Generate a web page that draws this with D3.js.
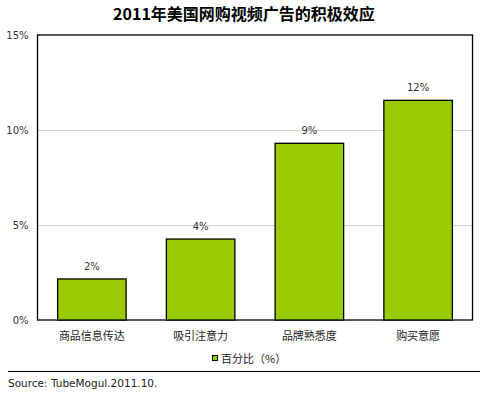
<!DOCTYPE html>
<html><head><meta charset="utf-8">
<script src="https://cdn.jsdelivr.net/npm/d3@7/dist/d3.min.js"></script>
<style>body{margin:0;background:#fff}svg{display:block}</style>
</head><body>
<script>
const categories = ["商品信息传达","吸引注意力","品牌熟悉度","购买意愿"];
const values = [2.16, 4.26, 9.3, 11.56];
const valueLabels = ["2%","4%","9%","12%"];
const ticks = [0,5,10,15];
const tickLabels = ["0%","5%","10%","15%"];
const seriesName = "百分比（%）";
const title = "2011年美国网购视频广告的积极效应";
const source = "Source: TubeMogul.2011.10.";

const W=483,H=393;
const svg=d3.select("body").append("svg").attr("width",W).attr("height",H);
const font="'Noto Sans CJK SC','DejaVu Sans',sans-serif";
const m={l:37.5,r:472.5,t:35,b:320};
const x=d3.scaleBand().domain(categories).range([m.l,m.r]).paddingInner(0.37).paddingOuter(0.185);
const y=d3.scaleLinear().domain([0,15]).range([m.b,m.t]);

svg.append("text").attr("x",244).attr("y",20).attr("text-anchor","middle")
  .attr("font-family",font).attr("font-weight","bold").attr("font-size",16).attr("fill","#000").text(title);

// gridlines
svg.append("g").selectAll("line").data(ticks.filter(t=>t>0&&t<15)).join("line")
  .attr("x1",m.l).attr("x2",m.r).attr("y1",d=>y(d)+0.5).attr("y2",d=>y(d)+0.5)
  .attr("stroke","#d0d0d0").attr("stroke-width",1);

// frame
svg.append("rect").attr("x",m.l).attr("y",m.t).attr("width",m.r-m.l).attr("height",m.b-m.t)
  .attr("fill","none").attr("stroke","#000").attr("stroke-width",1.3);

// y axis labels
const ya=d3.axisLeft(y).tickValues(ticks).tickFormat((d,i)=>tickLabels[i]).tickSize(0).tickPadding(9);
const yg=svg.append("g").attr("transform",`translate(${m.l},0)`).call(ya);
yg.select(".domain").remove();
yg.selectAll("text").attr("font-family","'DejaVu Sans',sans-serif").attr("font-size",10).attr("fill","#333");

// bars
svg.append("g").selectAll("rect").data(values).join("rect")
  .attr("x",(d,i)=>x(categories[i])).attr("width",x.bandwidth())
  .attr("y",d=>y(d)).attr("height",d=>y(0)-y(d))
  .attr("fill","#99cc00").attr("stroke","#000").attr("stroke-width",1.3);

svg.append("g").selectAll("text").data(values).join("text")
  .attr("x",(d,i)=>x(categories[i])+x.bandwidth()/2).attr("y",d=>y(d)-9)
  .attr("text-anchor","middle").attr("font-family","'DejaVu Sans',sans-serif").attr("font-size",10).attr("fill","#333")
  .text((d,i)=>valueLabels[i]);

// x axis labels
const xa=d3.axisBottom(x).tickSize(0).tickPadding(12);
const xg=svg.append("g").attr("transform",`translate(0,${m.b})`).call(xa);
xg.select(".domain").remove();
xg.selectAll("text").attr("font-family",font).attr("font-size",11).attr("fill","#222");

// legend
const lg=svg.append("g").attr("transform","translate(212,355)");
lg.append("rect").attr("x",0.5).attr("y",0.5).attr("width",5).attr("height",5).attr("fill","#99cc00").attr("stroke","#000").attr("stroke-width",1);
lg.append("text").attr("x",9).attr("y",7.5).attr("font-family",font).attr("font-size",11).attr("fill","#222").text(seriesName);

// source line
svg.append("line").attr("x1",8).attr("x2",480).attr("y1",371.5).attr("y2",371.5).attr("stroke","#000").attr("stroke-width",1);
svg.append("text").attr("x",8).attr("y",387).attr("font-family","'DejaVu Sans',sans-serif").attr("font-size",10.5).attr("fill","#222").text(source);
</script>
</body></html>
